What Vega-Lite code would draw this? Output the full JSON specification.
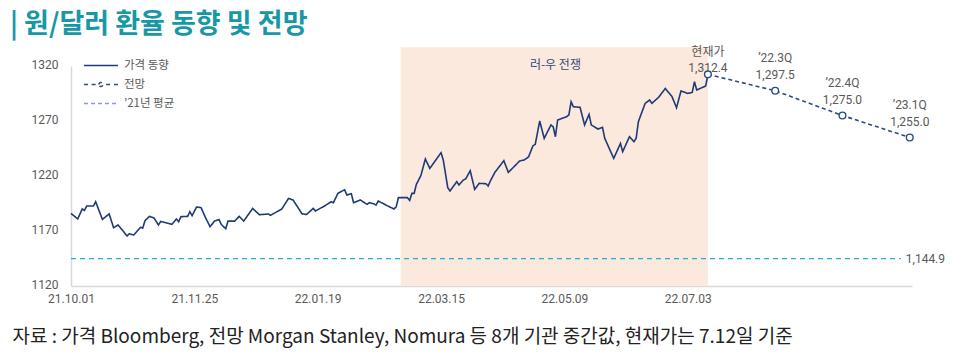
{
  "$schema": "https://vega.github.io/schema/vega-lite/v6.json",
  "width": 841,
  "height": 220,
  "autosize": {"type": "none"},
  "padding": {"left": 71, "top": 66, "right": 54, "bottom": 69},
  "background": "white",
  "config": {"view": {"stroke": null}, "font": "Noto Sans CJK KR"},
  "title": {
    "text": "| 원/달러 환율 동향 및 전망",
    "anchor": "start",
    "frame": "group",
    "dx": -61,
    "offset": 7,
    "baseline": "top",
    "fontSize": 27,
    "fontWeight": "bold",
    "color": "#1898a4",
    "font": "Noto Sans CJK KR"
  },
  "datasets": {
    "price": [
      {"d": "2021-10-01", "v": 1186}, {"d": "2021-10-04", "v": 1181}, {"d": "2021-10-06", "v": 1190},
      {"d": "2021-10-07", "v": 1188.7}, {"d": "2021-10-08", "v": 1192.7}, {"d": "2021-10-11", "v": 1192.7},
      {"d": "2021-10-12", "v": 1196.6}, {"d": "2021-10-15", "v": 1180.5}, {"d": "2021-10-18", "v": 1185.5},
      {"d": "2021-10-20", "v": 1173}, {"d": "2021-10-22", "v": 1175.5}, {"d": "2021-10-26", "v": 1165.5},
      {"d": "2021-10-27", "v": 1167.5}, {"d": "2021-10-29", "v": 1166.4}, {"d": "2021-11-01", "v": 1173.3},
      {"d": "2021-11-02", "v": 1172.7}, {"d": "2021-11-03", "v": 1179.4}, {"d": "2021-11-05", "v": 1183.3},
      {"d": "2021-11-07", "v": 1181.8}, {"d": "2021-11-09", "v": 1175.5}, {"d": "2021-11-10", "v": 1178.7},
      {"d": "2021-11-15", "v": 1176}, {"d": "2021-11-17", "v": 1181}, {"d": "2021-11-18", "v": 1178.5},
      {"d": "2021-11-19", "v": 1183}, {"d": "2021-11-22", "v": 1183.3}, {"d": "2021-11-23", "v": 1187.5},
      {"d": "2021-11-24", "v": 1184}, {"d": "2021-11-26", "v": 1191.8}, {"d": "2021-11-28", "v": 1191.2},
      {"d": "2021-11-30", "v": 1182}, {"d": "2021-12-02", "v": 1174}, {"d": "2021-12-04", "v": 1179},
      {"d": "2021-12-06", "v": 1180.5}, {"d": "2021-12-07", "v": 1176}, {"d": "2021-12-09", "v": 1172},
      {"d": "2021-12-10", "v": 1179}, {"d": "2021-12-13", "v": 1179}, {"d": "2021-12-15", "v": 1183.3},
      {"d": "2021-12-17", "v": 1179}, {"d": "2021-12-21", "v": 1190.5}, {"d": "2021-12-24", "v": 1184.8},
      {"d": "2021-12-28", "v": 1185.5}, {"d": "2021-12-29", "v": 1184.2}, {"d": "2021-12-31", "v": 1186.6},
      {"d": "2022-01-03", "v": 1190}, {"d": "2022-01-06", "v": 1199.6}, {"d": "2022-01-08", "v": 1198.2},
      {"d": "2022-01-12", "v": 1185.7}, {"d": "2022-01-14", "v": 1185}, {"d": "2022-01-17", "v": 1190.5},
      {"d": "2022-01-18", "v": 1188.2}, {"d": "2022-01-22", "v": 1192.7}, {"d": "2022-01-25", "v": 1196.6},
      {"d": "2022-01-26", "v": 1195.7}, {"d": "2022-01-28", "v": 1204.2}, {"d": "2022-01-31", "v": 1207.5},
      {"d": "2022-02-01", "v": 1202.7}, {"d": "2022-02-03", "v": 1203.9}, {"d": "2022-02-04", "v": 1195.7},
      {"d": "2022-02-07", "v": 1198.2}, {"d": "2022-02-10", "v": 1194.2}, {"d": "2022-02-11", "v": 1195.7},
      {"d": "2022-02-13", "v": 1194.8}, {"d": "2022-02-14", "v": 1193.6}, {"d": "2022-02-15", "v": 1197.3},
      {"d": "2022-02-19", "v": 1193}, {"d": "2022-02-22", "v": 1190}, {"d": "2022-02-23", "v": 1192},
      {"d": "2022-02-24", "v": 1200.3}, {"d": "2022-02-28", "v": 1200.3}, {"d": "2022-03-01", "v": 1197.8},
      {"d": "2022-03-02", "v": 1204.2}, {"d": "2022-03-03", "v": 1204.2}, {"d": "2022-03-04", "v": 1212.4},
      {"d": "2022-03-06", "v": 1220.3}, {"d": "2022-03-08", "v": 1235.5}, {"d": "2022-03-10", "v": 1226.9},
      {"d": "2022-03-15", "v": 1241.2}, {"d": "2022-03-16", "v": 1234.5}, {"d": "2022-03-18", "v": 1209.4},
      {"d": "2022-03-19", "v": 1206.4}, {"d": "2022-03-22", "v": 1214.8}, {"d": "2022-03-23", "v": 1211.8},
      {"d": "2022-03-25", "v": 1216.4}, {"d": "2022-03-26", "v": 1217.3}, {"d": "2022-03-28", "v": 1224.8},
      {"d": "2022-03-30", "v": 1207.8}, {"d": "2022-04-01", "v": 1213.3}, {"d": "2022-04-04", "v": 1213},
      {"d": "2022-04-05", "v": 1210.9}, {"d": "2022-04-06", "v": 1215.5}, {"d": "2022-04-08", "v": 1223.3},
      {"d": "2022-04-12", "v": 1233.9}, {"d": "2022-04-14", "v": 1223.3}, {"d": "2022-04-17", "v": 1229.4},
      {"d": "2022-04-19", "v": 1233.6}, {"d": "2022-04-21", "v": 1234.5}, {"d": "2022-04-23", "v": 1237.3},
      {"d": "2022-04-25", "v": 1247.5}, {"d": "2022-04-26", "v": 1248.7}, {"d": "2022-04-28", "v": 1270},
      {"d": "2022-04-30", "v": 1254.2}, {"d": "2022-05-03", "v": 1266.4}, {"d": "2022-05-04", "v": 1264.8},
      {"d": "2022-05-05", "v": 1255.7}, {"d": "2022-05-06", "v": 1270.9}, {"d": "2022-05-10", "v": 1273.9},
      {"d": "2022-05-11", "v": 1275.5}, {"d": "2022-05-12", "v": 1287.5}, {"d": "2022-05-13", "v": 1283},
      {"d": "2022-05-16", "v": 1282.4}, {"d": "2022-05-18", "v": 1266.4}, {"d": "2022-05-20", "v": 1276},
      {"d": "2022-05-21", "v": 1266.4}, {"d": "2022-05-24", "v": 1262.7}, {"d": "2022-05-26", "v": 1264.2},
      {"d": "2022-05-27", "v": 1254.2}, {"d": "2022-05-31", "v": 1236}, {"d": "2022-06-03", "v": 1249.6},
      {"d": "2022-06-04", "v": 1242.1}, {"d": "2022-06-07", "v": 1255.7}, {"d": "2022-06-09", "v": 1251.2},
      {"d": "2022-06-10", "v": 1254.2}, {"d": "2022-06-11", "v": 1269.4}, {"d": "2022-06-14", "v": 1286},
      {"d": "2022-06-16", "v": 1289.1}, {"d": "2022-06-17", "v": 1286}, {"d": "2022-06-20", "v": 1291.5},
      {"d": "2022-06-23", "v": 1299.6}, {"d": "2022-06-26", "v": 1292.1}, {"d": "2022-06-28", "v": 1282.1},
      {"d": "2022-06-30", "v": 1297.3}, {"d": "2022-07-03", "v": 1295.1}, {"d": "2022-07-05", "v": 1296},
      {"d": "2022-07-06", "v": 1305.7}, {"d": "2022-07-07", "v": 1298.2}, {"d": "2022-07-11", "v": 1301.8},
      {"d": "2022-07-12", "v": 1312.4}
    ],
    "forecast": [
      {"d": "2022-07-12", "v": 1312.4, "k": "now", "label": "현재가\n1,312.4"},
      {"d": "2022-08-11", "v": 1297.5, "k": "q", "label": "’22.3Q\n1,297.5"},
      {"d": "2022-09-10", "v": 1275.0, "k": "q", "label": "’22.4Q\n1,275.0"},
      {"d": "2022-10-10", "v": 1255.0, "k": "q", "label": "’23.1Q\n1,255.0"}
    ],
    "war": [{"d": "2022-02-25", "d2": "2022-07-12"}],
    "warlabel": [{"d": "2022-05-05", "label": "러-우 전쟁"}],
    "avg": [{"d": "2021-10-01", "d2": "2022-10-06", "v": 1144.9, "label": "1,144.9"}]
  },
  "layer": [
    {
      "data": {"name": "war"},
      "mark": {"type": "rect", "color": "#fbe9dd"},
      "encoding": {
        "x": {
          "field": "d",
          "type": "temporal",
          "scale": {"domain": [{"year": 2021, "month": 10, "date": 1, "utc": true}, {"year": 2022, "month": 10, "date": 11, "utc": true}]},
          "axis": {
            "values": [
              {"year": 2021, "month": 10, "date": 1, "utc": true},
              {"year": 2021, "month": 11, "date": 25, "utc": true},
              {"year": 2022, "month": 1, "date": 19, "utc": true},
              {"year": 2022, "month": 3, "date": 15, "utc": true},
              {"year": 2022, "month": 5, "date": 9, "utc": true},
              {"year": 2022, "month": 7, "date": 3, "utc": true}
            ],
            "labelExpr": "utcFormat(datum.value, '%y.%m.%d')",
            "labelFont": "Roboto",
            "labelFontSize": 12,
            "labelColor": "#595959",
            "labelPadding": 7,
            "labelFlush": false,
            "labelOverlap": false,
            "ticks": false,
            "tickSize": 0,
            "grid": false,
            "domainColor": "#d9d9d9",
            "domainWidth": 1.5,
            "title": "자료 : 가격 Bloomberg, 전망 Morgan Stanley, Nomura 등 8개 기관 중간값, 현재가는 7.12일 기준",
            "titleFont": "Noto Sans CJK KR",
            "titleFontSize": 19,
            "titleFontWeight": "normal",
            "titleColor": "#222222",
            "titleAnchor": "start",
            "titleAlign": "left",
            "titleBaseline": "alphabetic",
            "titleX": -59,
            "titleY": 56
          }
        },
        "x2": {"field": "d2"},
        "y": {
          "datum": 1120,
          "type": "quantitative",
          "scale": {"domain": [1120, 1320], "nice": false, "zero": false},
          "axis": {
            "values": [1120, 1170, 1220, 1270, 1320],
            "format": "d",
            "labelFont": "Roboto",
            "labelFontSize": 12,
            "labelColor": "#595959",
            "labelPadding": 13,
            "labelOffset": -2,
            "ticks": false,
            "tickSize": 0,
            "grid": false,
            "domainColor": "#d9d9d9",
            "domainWidth": 1.5,
            "title": null
          }
        },
        "y2": {"datum": 1337}
      }
    },
    {
      "data": {"name": "warlabel"},
      "mark": {"type": "text", "color": "#2f4a7c", "fontSize": 12, "baseline": "middle", "align": "center", "font": "Noto Sans CJK KR"},
      "encoding": {
        "x": {"field": "d", "type": "temporal"},
        "y": {"datum": 1320.5, "type": "quantitative"},
        "text": {"field": "label"}
      }
    },
    {
      "data": {"name": "avg"},
      "mark": {"type": "rule", "color": "#27ace0", "strokeDash": [5, 4], "strokeWidth": 1.3},
      "encoding": {
        "x": {"field": "d", "type": "temporal"},
        "x2": {"field": "d2"},
        "y": {"field": "v", "type": "quantitative"}
      }
    },
    {
      "data": {"name": "avg"},
      "mark": {"type": "text", "align": "left", "baseline": "middle", "dx": 5, "fontSize": 12, "color": "#595959", "font": "Roboto"},
      "encoding": {
        "x": {"field": "d2", "type": "temporal"},
        "y": {"field": "v", "type": "quantitative"},
        "text": {"field": "label"}
      }
    },
    {
      "data": {"name": "price"},
      "mark": {"type": "line", "strokeWidth": 1.6},
      "encoding": {
        "x": {"field": "d", "type": "temporal"},
        "y": {"field": "v", "type": "quantitative"},
        "color": {
          "datum": "가격 동향",
          "type": "nominal",
          "title": null,
          "scale": {"domain": ["가격 동향", "전망", "’21년 평균"], "range": ["#1f3a75", "#2a4a8a", "#8f96ee"]},
          "legend": {
            "orient": "none",
            "legendX": 12,
            "legendY": -7,
            "padding": 0,
            "symbolType": "stroke",
            "symbolSize": 1156,
            "symbolStrokeWidth": 1.5,
            "clipHeight": 13,
            "rowPadding": 6,
            "labelFontSize": 11.5,
            "labelColor": "#595959",
            "labelOffset": 5,
            "labelFont": "Noto Sans CJK KR",
            "encode": {
              "symbols": {
                "update": {
                  "shape": {"signal": "datum.value === '전망' ? 'M-1,0L-0.76,0M-0.55,0L-0.3,0M-0.12,0A0.12,0.12 0 1,1 0.12,0A0.12,0.12 0 1,1 -0.12,0M0.3,0L0.55,0M0.76,0L1,0' : 'stroke'"},
                  "strokeDash": {"signal": "datum.value === '전망' ? [1,0] : scale('strokeDash', datum.value)"},
                  "fill": {"value": "white"}
                }
              }
            }
          }
        },
        "strokeDash": {
          "datum": "가격 동향",
          "type": "nominal",
          "title": null,
          "scale": {"domain": ["가격 동향", "전망", "’21년 평균"], "range": [[1, 0], [4, 3], [4, 3]]}
        }
      }
    },
    {
      "data": {"name": "forecast"},
      "mark": {"type": "line", "strokeWidth": 1.6},
      "encoding": {
        "x": {"field": "d", "type": "temporal"},
        "y": {"field": "v", "type": "quantitative"},
        "color": {"datum": "전망", "type": "nominal", "title": null},
        "strokeDash": {"datum": "전망", "type": "nominal", "title": null}
      }
    },
    {
      "data": {"name": "forecast"},
      "mark": {"type": "point", "filled": true, "fill": "white", "stroke": "#2a4a8a", "strokeWidth": 1.4, "size": 45, "opacity": 1},
      "encoding": {
        "x": {"field": "d", "type": "temporal"},
        "y": {"field": "v", "type": "quantitative"}
      }
    },
    {
      "data": {"name": "forecast"},
      "transform": [{"filter": "datum.k === 'q'"}],
      "mark": {"type": "text", "lineBreak": "\n", "lineHeight": 17, "baseline": "middle", "align": "center", "dy": -33, "fontSize": 12, "color": "#595959", "font": "Roboto, Noto Sans CJK KR"},
      "encoding": {
        "x": {"field": "d", "type": "temporal"},
        "y": {"field": "v", "type": "quantitative"},
        "text": {"field": "label"}
      }
    },
    {
      "data": {"name": "forecast"},
      "transform": [{"filter": "datum.k === 'now'"}],
      "mark": {"type": "text", "lineBreak": "\n", "lineHeight": 16, "baseline": "middle", "align": "center", "dy": -22, "fontSize": 12, "color": "#595959", "font": "Roboto, Noto Sans CJK KR"},
      "encoding": {
        "x": {"field": "d", "type": "temporal"},
        "y": {"field": "v", "type": "quantitative"},
        "text": {"field": "label"}
      }
    }
  ]
}
